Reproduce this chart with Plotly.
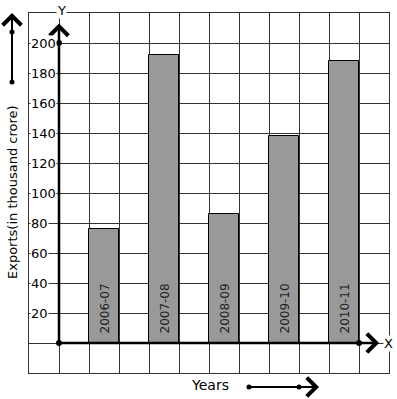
import plotly.graph_objects as go

years = ["2006-07", "2007-08", "2008-09", "2009-10", "2010-11"]
exports = [76, 192, 86, 138, 188]
y_ticks = [20, 40, 60, 80, 100, 120, 140, 160, 180, 200]

FONT = "DejaVu Sans"
L, R, T, B = 29, 8, 13, 26
W, H = 397, 399
PW, PH = W - L - R, H - T - B


def px_x(p):
    return (p - L) / PW


def px_y(p):
    return 1 - (p - T) / PH


xpos = [2 * i + 1.5 for i in range(len(years))]

fig = go.Figure()
fig.add_trace(go.Bar(
    x=xpos, y=exports, width=1,
    marker=dict(color="#999999", line=dict(color="#000000", width=1)),
    hoverinfo="skip", showlegend=False,
))
# dots on axes
fig.add_trace(go.Scatter(
    x=[0, 0, 10], y=[0, 200, 0], mode="markers",
    marker=dict(color="black", size=6), showlegend=False, hoverinfo="skip",
))

AH = dict(arrowhead=4, arrowwidth=2, arrowsize=1.8, arrowcolor="black")

ann = []
# axis arrows
ann.append(dict(x=0, y=213, ax=0, ay=0, xref="x", yref="y", axref="x", ayref="y",
                text="", showarrow=True, **AH))
ann.append(dict(x=10.67, y=0, ax=0, ay=0, xref="x", yref="y", axref="x", ayref="y",
                text="", showarrow=True, **AH))
# tick labels
for v in y_ticks:
    ann.append(dict(x=-1, y=v, xref="x", yref="y", text=str(v), showarrow=False,
                    xanchor="left", yanchor="middle", xshift=1, bgcolor="white",
                    borderpad=0, font=dict(family=FONT, size=13, color="black")))
# bar labels
for xp, lab in zip(xpos, years):
    ann.append(dict(x=xp, y=23, xref="x", yref="y", text=lab, showarrow=False,
                    textangle=-90, xanchor="center", yanchor="middle",
                    font=dict(family=FONT, size=12, color="#222222")))
# axis letters
ann.append(dict(x=10.97, y=0, xref="x", yref="y", text="X", showarrow=False,
                xanchor="center", yanchor="middle", bgcolor="white", borderpad=0,
                font=dict(family=FONT, size=13, color="black")))
ann.append(dict(x=0.07, y=px_y(10), xref="x", yref="paper", text="Y", showarrow=False,
                xanchor="center", yanchor="middle", bgcolor="white", borderpad=0,
                font=dict(family=FONT, size=13, color="black")))
# titles
ann.append(dict(x=px_x(12), y=px_y(192), xref="paper", yref="paper",
                text="Exports(in thousand crore)", showarrow=False, textangle=-90,
                xanchor="center", yanchor="middle",
                font=dict(family=FONT, size=13, color="black")))
ann.append(dict(x=px_x(210), y=px_y(385), xref="paper", yref="paper",
                text="Years", showarrow=False, xanchor="center", yanchor="middle",
                font=dict(family=FONT, size=14, color="black")))
# decorative arrows outside
ann.append(dict(x=px_x(12), y=px_y(13), xref="paper", yref="paper",
                ax=0, ay=69, axref="pixel", ayref="pixel", text="", showarrow=True, **AH))
ann.append(dict(x=px_x(319), y=px_y(387), xref="paper", yref="paper",
                ax=-70, ay=0, axref="pixel", ayref="pixel", text="", showarrow=True, **AH))

shapes = []
for (cx, cy) in [(12, 32), (12, 82), (249, 387), (299, 387)]:
    shapes.append(dict(type="circle", xref="paper", yref="paper",
                       xsizemode="pixel", ysizemode="pixel",
                       xanchor=px_x(cx), yanchor=px_y(cy),
                       x0=-2.5, x1=2.5, y0=-2.5, y1=2.5,
                       fillcolor="black", line=dict(color="black", width=0)))
# thick axis lines
fig.add_shape(type="line", x0=0, y0=0, x1=10.5, y1=0, xref="x", yref="y",
              line=dict(color="black", width=2.5))
fig.add_shape(type="line", x0=0, y0=0, x1=0, y1=208, xref="x", yref="y",
              line=dict(color="black", width=2.5))

fig.update_layout(
    width=W, height=H,
    margin=dict(l=L, r=R, t=T, b=B, pad=0),
    paper_bgcolor="white", plot_bgcolor="white",
    annotations=ann,
    shapes=list(fig.layout.shapes) + shapes,
    xaxis=dict(range=[-1, 11], tick0=0, dtick=1, showticklabels=False, ticks="",
               showgrid=True, gridcolor="#333333", gridwidth=1, zeroline=False,
               showline=True, mirror=True, linecolor="#333333", linewidth=1,
               fixedrange=True),
    yaxis=dict(range=[-20, 220], tick0=0, dtick=20, showticklabels=False, ticks="",
               showgrid=True, gridcolor="#333333", gridwidth=1, zeroline=False,
               showline=True, mirror=True, linecolor="#333333", linewidth=1,
               fixedrange=True),
    bargap=0,
)

fig.write_html("out.html", config={"displayModeBar": False},
               post_script="document.body.style.margin='0';")
